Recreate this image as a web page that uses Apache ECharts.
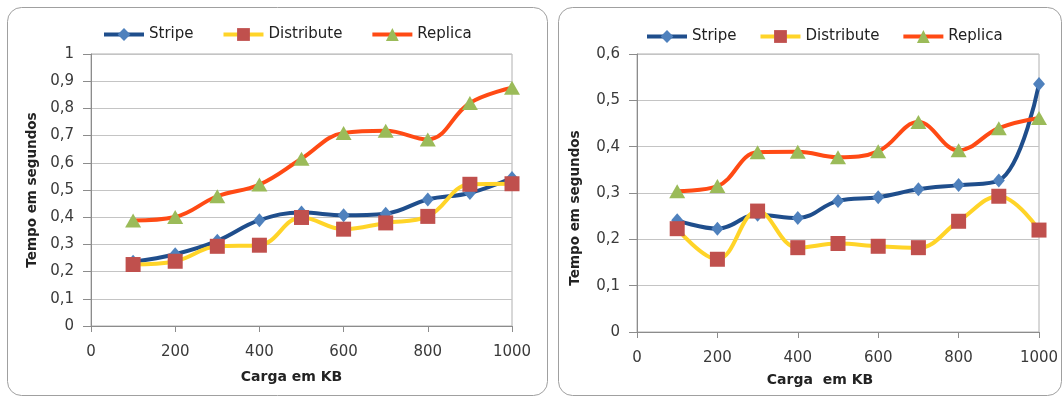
<!DOCTYPE html>
<html>
<head>
<meta charset="utf-8">
<script src="https://cdn.jsdelivr.net/npm/echarts@6/dist/echarts.min.js"></script>
<style>
html,body{margin:0;padding:0;background:#fff;}
#c{width:1063px;height:396px;}
</style>
</head>
<body>
<div id="c"></div>
<script>
// Data
var loads = [100, 200, 300, 400, 500, 600, 700, 800, 900, 1000];
var seriesNames = ['Stripe', 'Distribute', 'Replica'];
// Left chart
var stripeLeft     = [0.236, 0.264, 0.313, 0.389, 0.417, 0.407, 0.413, 0.465, 0.489, 0.544];
var distributeLeft = [0.226, 0.238, 0.293, 0.297, 0.399, 0.356, 0.379, 0.403, 0.521, 0.523];
var replicaLeft    = [0.388, 0.401, 0.477, 0.520, 0.615, 0.710, 0.718, 0.686, 0.820, 0.876];
// Right chart
var stripeRight     = [0.241, 0.223, 0.253, 0.246, 0.283, 0.291, 0.308, 0.317, 0.327, 0.535];
var distributeRight = [0.223, 0.157, 0.261, 0.182, 0.191, 0.185, 0.182, 0.239, 0.293, 0.220];
var replicaRight    = [0.304, 0.315, 0.388, 0.389, 0.377, 0.390, 0.453, 0.392, 0.440, 0.462];
var xTitleLeft = 'Carga em KB';
var xTitleRight = 'Carga  em KB';
var yTitle = 'Tempo em segundos';

var FONT = 'DejaVu Sans';
var LABEL_COLOR = '#3a3a3a';
var lineColors = ['#1f4e8c', '#ffd428', '#ff4a14'];
var markerColors = ['#4f81bd', '#c0504d', '#9bbb59'];
var symbols = ['diamond', 'rect', 'triangle'];
var symbolSizes = [[12, 14], 15, [16, 14]];

function pairs(vals) { return loads.map(function (x, i) { return [x, vals[i]]; }); }

function makeSeries(idx, gridIdx, vals) {
  return {
    name: seriesNames[idx],
    type: 'line',
    xAxisIndex: gridIdx,
    yAxisIndex: gridIdx,
    data: pairs(vals),
    smooth: 0.4,
    symbol: symbols[idx],
    symbolSize: symbolSizes[idx],
    showAllSymbol: true,
    lineStyle: { color: lineColors[idx], width: 4 },
    itemStyle: { color: markerColors[idx], borderWidth: 0 },
    color: markerColors[idx],
    emphasis: { disabled: true },
    animation: false
  };
}

function xAxis(gridIdx, title, gap, pad) {
  return {
    type: 'value', gridIndex: gridIdx, min: 0, max: 1000, interval: 200,
    name: title, nameLocation: 'middle', nameGap: gap,
    nameTextStyle: { fontFamily: FONT, fontWeight: 'bold', fontSize: 14, color: '#222', padding: pad },
    axisLine: { lineStyle: { color: '#8c8c8c', width: 1 } },
    axisTick: { show: true, length: 6, lineStyle: { color: '#8c8c8c' } },
    axisLabel: { fontFamily: FONT, fontSize: 15, color: LABEL_COLOR, margin: 19,
      formatter: function (v) { return String(v); } },
    splitLine: { show: false }
  };
}
function yAxis(gridIdx, max, gap, pad) {
  return {
    type: 'value', gridIndex: gridIdx, min: 0, max: max, interval: 0.1,
    name: yTitle, nameLocation: 'middle', nameGap: gap,
    nameTextStyle: { fontFamily: FONT, fontWeight: 'bold', fontSize: 13.5, color: '#222', padding: pad },
    axisLine: { show: true, lineStyle: { color: '#8c8c8c', width: 1 } },
    axisTick: { show: true, length: 8, lineStyle: { color: '#8c8c8c' } },
    axisLabel: { fontFamily: FONT, fontSize: 15, color: LABEL_COLOR, margin: 17,
      formatter: function (v) { return (Math.round(v * 10) / 10).toString().replace('.', ','); } },
    splitLine: { show: true, lineStyle: { color: '#c4c4c4', width: 1 } }
  };
}
function legend(gridIdx, left, top, gap) {
  return {
    show: true, left: left, top: top, itemWidth: 40, itemHeight: 16, itemGap: gap,
    data: seriesNames.map(function (n) { return { name: n }; }),
    textStyle: { fontFamily: FONT, fontSize: 15, color: '#222' },
    lineStyle: { width: 4 },
    selectedMode: false
  };
}

var chart = echarts.init(document.getElementById('c'), null, { renderer: 'canvas' });
chart.setOption({
  animation: false,
  backgroundColor: '#fff',
  graphic: [
    { type: 'rect', shape: { x: 7.5, y: 7.5, width: 540, height: 388, r: 14 },
      style: { fill: 'none', stroke: '#a0a0a0', lineWidth: 1 }, z: -10 },
    { type: 'rect', shape: { x: 558.5, y: 7.5, width: 503, height: 388, r: 14 },
      style: { fill: 'none', stroke: '#a0a0a0', lineWidth: 1 }, z: -10 }
  ],
  legend: [legend(0, 97, 22, 28), legend(1, 640, 24, 22)],
  grid: [
    { left: 91, top: 54, right: 1063 - 512, bottom: 396 - 326, show: true, borderColor: '#b0b0b0', borderWidth: 1, backgroundColor: 'transparent' },
    { left: 637, top: 54, right: 1063 - 1039, bottom: 396 - 332, show: true, borderColor: '#b0b0b0', borderWidth: 1, backgroundColor: 'transparent' }
  ],
  xAxis: [xAxis(0, xTitleLeft, 44, [0, 20, 0, 0]), xAxis(1, xTitleRight, 41, [0, 36, 0, 0])],
  yAxis: [yAxis(0, 1, 52, [0, 0, 0, 0]), yAxis(1, 0.6, 55, [0, 30, 0, 0])],
  series: [
    makeSeries(0, 0, stripeLeft),
    makeSeries(1, 0, distributeLeft),
    makeSeries(2, 0, replicaLeft),
    makeSeries(0, 1, stripeRight),
    makeSeries(1, 1, distributeRight),
    makeSeries(2, 1, replicaRight)
  ]
});
</script>
</body>
</html>
